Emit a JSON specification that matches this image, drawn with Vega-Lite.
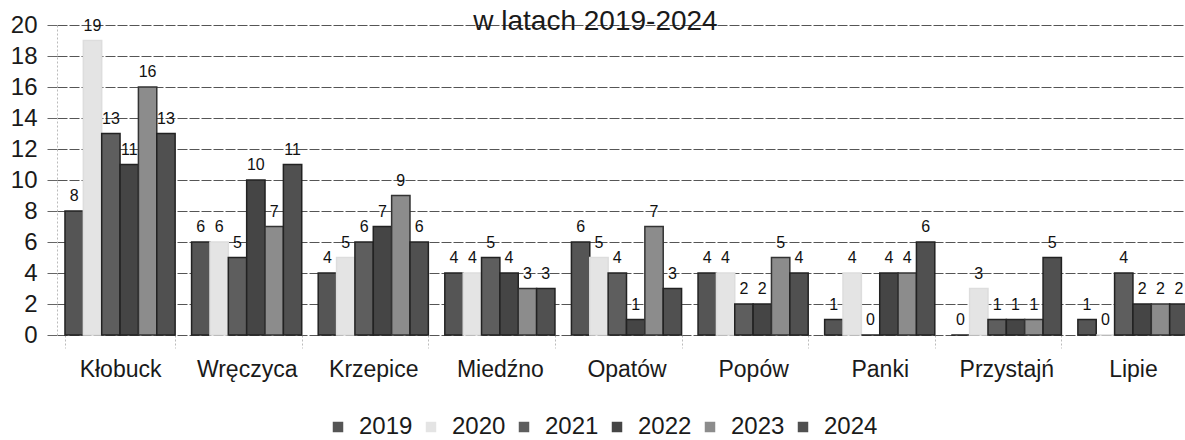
{
  "$schema": "https://vega.github.io/schema/vega-lite/v6.json",
  "autosize": "none",
  "width": 1139,
  "height": 310,
  "padding": {"left": 57, "top": 25, "right": 0, "bottom": 105},
  "background": "#ffffff",
  "title": {
    "text": "w latach 2019-2024",
    "anchor": "middle",
    "frame": "group",
    "dx": -31,
    "dy": 45,
    "offset": 0,
    "baseline": "alphabetic",
    "fontSize": 28,
    "font": "Liberation Sans",
    "fontWeight": "normal",
    "color": "#1a1a1a"
  },
  "config": {
    "font": "Liberation Sans",
    "view": {"stroke": null},
    "legend": {"padding": 0}
  },
  "data": {
    "values": [
      {"Gmina": "Kłobuck", "Rok": "2019", "Liczba": 8},
      {"Gmina": "Kłobuck", "Rok": "2020", "Liczba": 19},
      {"Gmina": "Kłobuck", "Rok": "2021", "Liczba": 13},
      {"Gmina": "Kłobuck", "Rok": "2022", "Liczba": 11},
      {"Gmina": "Kłobuck", "Rok": "2023", "Liczba": 16},
      {"Gmina": "Kłobuck", "Rok": "2024", "Liczba": 13},
      {"Gmina": "Wręczyca", "Rok": "2019", "Liczba": 6},
      {"Gmina": "Wręczyca", "Rok": "2020", "Liczba": 6},
      {"Gmina": "Wręczyca", "Rok": "2021", "Liczba": 5},
      {"Gmina": "Wręczyca", "Rok": "2022", "Liczba": 10},
      {"Gmina": "Wręczyca", "Rok": "2023", "Liczba": 7},
      {"Gmina": "Wręczyca", "Rok": "2024", "Liczba": 11},
      {"Gmina": "Krzepice", "Rok": "2019", "Liczba": 4},
      {"Gmina": "Krzepice", "Rok": "2020", "Liczba": 5},
      {"Gmina": "Krzepice", "Rok": "2021", "Liczba": 6},
      {"Gmina": "Krzepice", "Rok": "2022", "Liczba": 7},
      {"Gmina": "Krzepice", "Rok": "2023", "Liczba": 9},
      {"Gmina": "Krzepice", "Rok": "2024", "Liczba": 6},
      {"Gmina": "Miedźno", "Rok": "2019", "Liczba": 4},
      {"Gmina": "Miedźno", "Rok": "2020", "Liczba": 4},
      {"Gmina": "Miedźno", "Rok": "2021", "Liczba": 5},
      {"Gmina": "Miedźno", "Rok": "2022", "Liczba": 4},
      {"Gmina": "Miedźno", "Rok": "2023", "Liczba": 3},
      {"Gmina": "Miedźno", "Rok": "2024", "Liczba": 3},
      {"Gmina": "Opatów", "Rok": "2019", "Liczba": 6},
      {"Gmina": "Opatów", "Rok": "2020", "Liczba": 5},
      {"Gmina": "Opatów", "Rok": "2021", "Liczba": 4},
      {"Gmina": "Opatów", "Rok": "2022", "Liczba": 1},
      {"Gmina": "Opatów", "Rok": "2023", "Liczba": 7},
      {"Gmina": "Opatów", "Rok": "2024", "Liczba": 3},
      {"Gmina": "Popów", "Rok": "2019", "Liczba": 4},
      {"Gmina": "Popów", "Rok": "2020", "Liczba": 4},
      {"Gmina": "Popów", "Rok": "2021", "Liczba": 2},
      {"Gmina": "Popów", "Rok": "2022", "Liczba": 2},
      {"Gmina": "Popów", "Rok": "2023", "Liczba": 5},
      {"Gmina": "Popów", "Rok": "2024", "Liczba": 4},
      {"Gmina": "Panki", "Rok": "2019", "Liczba": 1},
      {"Gmina": "Panki", "Rok": "2020", "Liczba": 4},
      {"Gmina": "Panki", "Rok": "2021", "Liczba": 0},
      {"Gmina": "Panki", "Rok": "2022", "Liczba": 4},
      {"Gmina": "Panki", "Rok": "2023", "Liczba": 4},
      {"Gmina": "Panki", "Rok": "2024", "Liczba": 6},
      {"Gmina": "Przystajń", "Rok": "2019", "Liczba": 0},
      {"Gmina": "Przystajń", "Rok": "2020", "Liczba": 3},
      {"Gmina": "Przystajń", "Rok": "2021", "Liczba": 1},
      {"Gmina": "Przystajń", "Rok": "2022", "Liczba": 1},
      {"Gmina": "Przystajń", "Rok": "2023", "Liczba": 1},
      {"Gmina": "Przystajń", "Rok": "2024", "Liczba": 5},
      {"Gmina": "Lipie", "Rok": "2019", "Liczba": 1},
      {"Gmina": "Lipie", "Rok": "2020", "Liczba": 0},
      {"Gmina": "Lipie", "Rok": "2021", "Liczba": 4},
      {"Gmina": "Lipie", "Rok": "2022", "Liczba": 2},
      {"Gmina": "Lipie", "Rok": "2023", "Liczba": 2},
      {"Gmina": "Lipie", "Rok": "2024", "Liczba": 2}
    ]
  },
  "encoding": {
    "x": {
      "field": "Gmina",
      "type": "nominal",
      "sort": null,
      "scale": {"paddingInner": 0.13, "paddingOuter": 0.063},
      "axis": {
        "title": null,
        "labelAngle": 0,
        "labelFontSize": 23,
        "labelColor": "#1a1a1a",
        "labelPadding": 10,
        "domain": false,
        "ticks": true,
        "tickBand": "extent",
        "tickSize": 13,
        "tickColor": "#bbbbbb",
        "tickDash": [2, 2],
        "grid": false
      }
    },
    "xOffset": {
      "field": "Rok",
      "type": "nominal",
      "scale": {"paddingInner": 0, "paddingOuter": 0}
    },
    "y": {
      "field": "Liczba",
      "type": "quantitative",
      "scale": {"domain": [0, 20], "nice": false},
      "axis": {
        "title": null,
        "values": [0, 2, 4, 6, 8, 10, 12, 14, 16, 18, 20],
        "labelFontSize": 24,
        "labelColor": "#1a1a1a",
        "labelPadding": 10,
        "tickSize": 10,
        "tickColor": "#666666",
        "domain": true,
        "domainColor": "#bbbbbb",
        "domainDash": [2, 2],
        "grid": true,
        "gridColor": "#555555",
        "gridWidth": 1,
        "gridDash": [10, 2]
      }
    }
  },
  "layer": [
    {
      "mark": {"type": "bar", "strokeWidth": 1.5},
      "encoding": {
        "color": {
          "field": "Rok",
          "type": "nominal",
          "scale": {
            "domain": ["2019", "2020", "2021", "2022", "2023", "2024"],
            "range": ["#555555", "#e4e4e4", "#5e5e5e", "#454545", "#8c8c8c", "#505050"]
          },
          "legend": {
            "title": null,
            "orient": "none",
            "legendX": 269,
            "legendY": 390,
            "direction": "horizontal",
            "symbolType": "square",
            "symbolSize": 110,
            "symbolStrokeWidth": 0,
            "labelFontSize": 24,
            "labelColor": "#1a1a1a",
            "labelOffset": 9,
            "columnPadding": 6
          }
        },
        "stroke": {
          "field": "Rok",
          "type": "nominal",
          "scale": {
            "domain": ["2019", "2020", "2021", "2022", "2023", "2024"],
            "range": ["#222222", "#dddddd", "#222222", "#222222", "#333333", "#222222"]
          },
          "legend": null
        }
      }
    },
    {
      "mark": {
        "type": "text",
        "baseline": "alphabetic",
        "dy": -10,
        "fontSize": 16,
        "color": "#111111"
      },
      "encoding": {
        "text": {"field": "Liczba", "type": "quantitative"}
      }
    }
  ]
}
